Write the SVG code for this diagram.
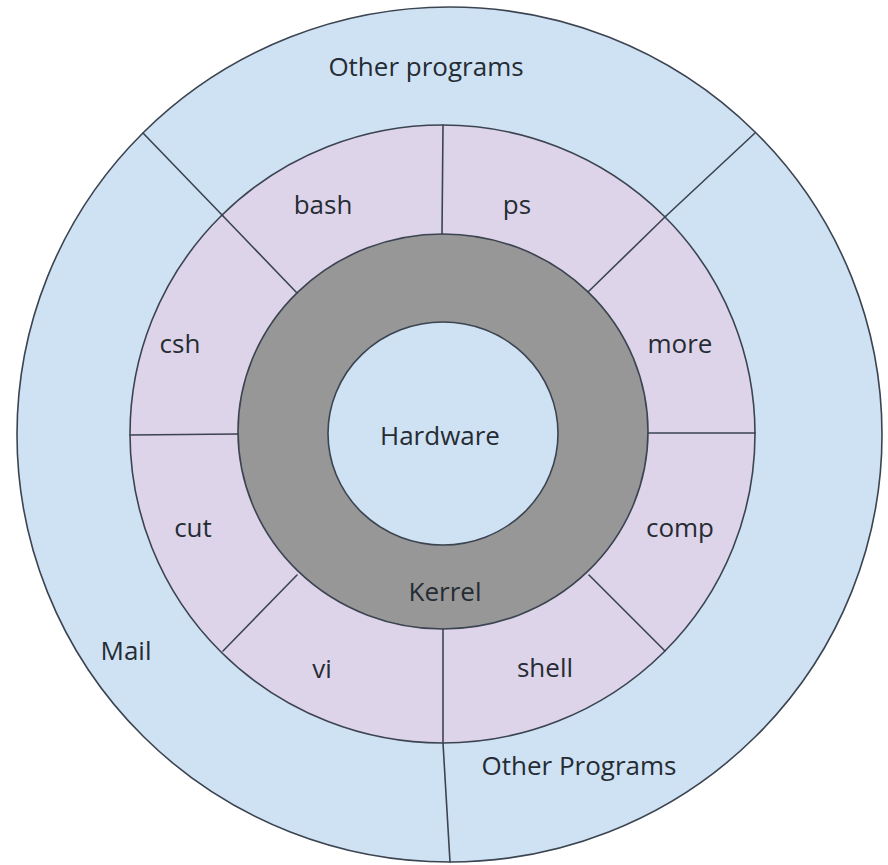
<svg xmlns="http://www.w3.org/2000/svg" width="888" height="865" viewBox="0 0 888 865">
  <style>
    .ring { stroke: #3b4450; stroke-width: 1.6; }
    .outer { fill: #cfe2f3; }
    .shell-ring { fill: #ddd4ea; }
    .kernel { fill: #979797; }
    .hw { fill: #cfe2f3; }
    .div { stroke: #3b4450; stroke-width: 1.6; fill: none; stroke-linecap: round; }
    text { font-family: "Open Sans", "Liberation Sans", sans-serif; font-size: 26px; fill: #262c33; text-anchor: middle; }
  </style>
  <rect width="888" height="865" fill="#ffffff"/>

  <!-- application layer -->
  <g id="applications">
    <ellipse class="ring outer" cx="449.5" cy="434.5" rx="432.5" ry="427.5"/>
  </g>
  <!-- shell / utilities layer -->
  <g id="utilities">
    <ellipse class="ring shell-ring" cx="442.5" cy="434" rx="312.5" ry="309"/>
  </g>
  <!-- kernel layer -->
  <g id="kernel">
    <ellipse class="ring kernel" cx="443" cy="431.5" rx="205" ry="197.5"/>
  </g>
  <!-- hardware core -->
  <g id="hardware">
    <ellipse class="ring hw" cx="443" cy="433.5" rx="115" ry="111.5"/>
  </g>

  <!-- segment dividers -->
  <g id="dividers">
    <line class="div" x1="143" y1="133" x2="223" y2="216"/>
    <line class="div" x1="755" y1="133" x2="666" y2="216"/>
    <line class="div" x1="443" y1="743" x2="450" y2="862"/>
    <line class="div" x1="223" y1="216" x2="297" y2="293"/>
    <line class="div" x1="666" y1="216" x2="588" y2="292"/>
    <line class="div" x1="443" y1="125" x2="442" y2="234"/>
    <line class="div" x1="130" y1="435" x2="238" y2="434"/>
    <line class="div" x1="648" y1="433" x2="755" y2="433"/>
    <line class="div" x1="297" y1="575" x2="223" y2="651"/>
    <line class="div" x1="589" y1="575" x2="665" y2="651"/>
    <line class="div" x1="443" y1="629" x2="443" y2="743"/>
  </g>

  <!-- labels -->
  <g id="labels">
    <text id="lbl-other-top" x="426" y="76">Other programs</text>
    <text id="lbl-bash" x="323" y="214">bash</text>
    <text id="lbl-ps" x="517" y="214">ps</text>
    <text id="lbl-csh" x="180" y="353">csh</text>
    <text id="lbl-more" x="680" y="353">more</text>
    <text id="lbl-hardware" x="440" y="445">Hardware</text>
    <text id="lbl-cut" x="193" y="537">cut</text>
    <text id="lbl-comp" x="680" y="537">comp</text>
    <text id="lbl-kernel" x="445" y="601">Kerrel</text>
    <text id="lbl-mail" x="126" y="660">Mail</text>
    <text id="lbl-vi" x="322" y="678">vi</text>
    <text id="lbl-shell" x="545" y="677">shell</text>
    <text id="lbl-other-bottom" x="579" y="775">Other Programs</text>
  </g>
</svg>
